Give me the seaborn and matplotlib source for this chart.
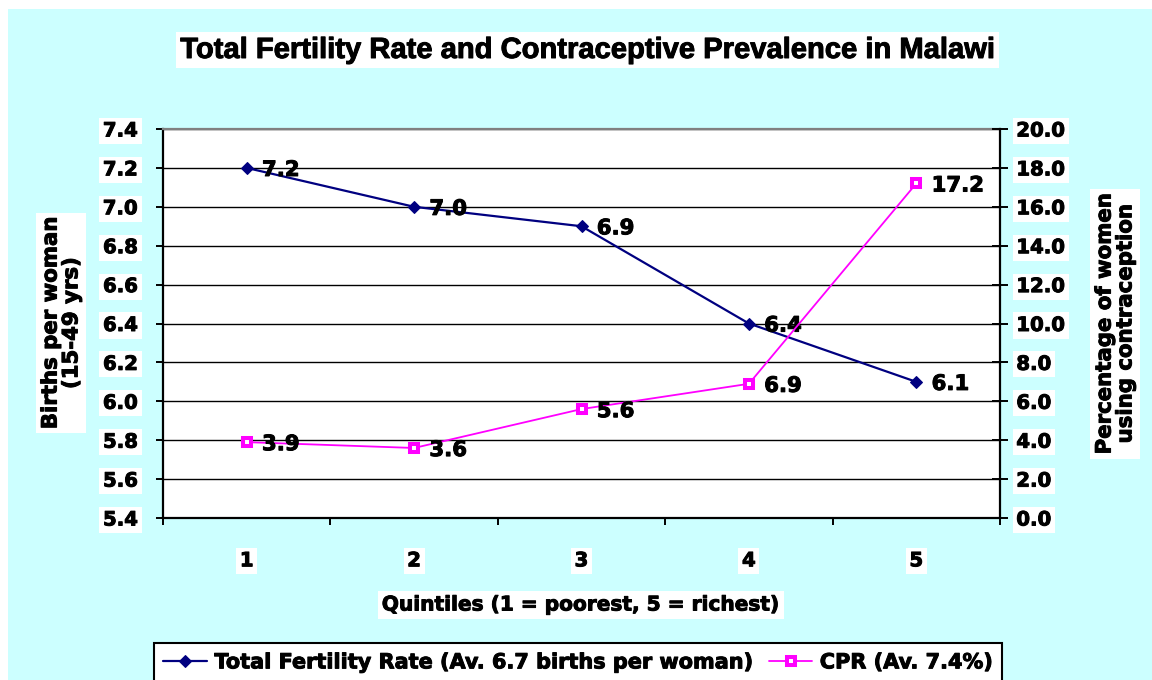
import matplotlib
matplotlib.use("Agg")
import matplotlib.pyplot as plt
from matplotlib.patches import Rectangle
import matplotlib.patheffects as pe
import seaborn as sns
import pandas as pd

# ---- data ----
quintiles = ["1", "2", "3", "4", "5"]
tfr = [7.2, 7.0, 6.9, 6.4, 6.1]
cpr = [3.9, 3.6, 5.6, 6.9, 17.2]
tfr_label = "Total Fertility Rate (Av. 6.7 births per woman)"
cpr_label = "CPR (Av. 7.4%)"
left_ticks = [5.4, 5.6, 5.8, 6.0, 6.2, 6.4, 6.6, 6.8, 7.0, 7.2, 7.4]
right_ticks = [0, 2, 4, 6, 8, 10, 12, 14, 16, 18, 20]

sns.set_style("white")
plt.rcParams["font.family"] = ["DejaVu Sans"]
plt.rcParams["font.weight"] = "bold"
for k in ["text.color", "axes.labelcolor", "xtick.color", "ytick.color",
          "xtick.labelcolor", "ytick.labelcolor"]:
    plt.rcParams[k] = "black"

heavy = [pe.withStroke(linewidth=0.7, foreground="black")]

W, H = 1152, 680
fig = plt.figure(figsize=(W / 100, H / 100), dpi=100, facecolor="white")
fig.patches.append(Rectangle((8 / W, 0), 1, (H - 9) / H, transform=fig.transFigure,
                             facecolor="#CCFFFF", edgecolor="none", zorder=-10))

L, R, T, B = 163, 1000, 129, 518
ax = fig.add_axes([L / W, (H - B) / H, (R - L) / W, (B - T) / H])
ax.set_facecolor("white")
ax2 = ax.twinx()

df = pd.DataFrame({"x": range(len(quintiles)), "tfr": tfr, "cpr": cpr})

sns.lineplot(data=df, x="x", y="tfr", ax=ax, color="#000080", lw=1.6,
             marker="D", markersize=6.5, markeredgecolor="#000080",
             label=tfr_label, legend=False, zorder=5)
sns.lineplot(data=df, x="x", y="cpr", ax=ax2, color="#FF00FF", lw=1.3,
             marker="s", markersize=5.2, markerfacecolor="white",
             markeredgecolor="#FF00FF", markeredgewidth=2.9,
             label=cpr_label, legend=False, zorder=5)

lab_font = dict(fontsize=15.3, fontweight="bold", color="black")
for i, v in enumerate(tfr):
    ax.annotate(f"{v:.1f}", (i, v), xytext=(11, -1.5), textcoords="offset points",
                ha="left", va="center", zorder=6, path_effects=heavy, **lab_font)
for i, v in enumerate(cpr):
    ax2.annotate(f"{v:.1f}", (i, v), xytext=(11, -1.5), textcoords="offset points",
                 ha="left", va="center", zorder=6, path_effects=heavy, **lab_font)

# axes limits / ticks
ax.set_xlim(-0.5, len(quintiles) - 0.5)
ax.set_ylim(5.4, 7.4)
ax2.set_ylim(0, 20)
ax.set_yticks(left_ticks)
ax.set_yticklabels([f"{t:.1f}" for t in left_ticks])
ax2.set_yticks(right_ticks)
ax2.set_yticklabels([f"{t:.1f}" for t in right_ticks])
ax.set_xticks(range(len(quintiles)))
ax.set_xticklabels(quintiles)
ax.set_xticks([i - 0.5 for i in range(len(quintiles) + 1)], minor=True)
ax.set_xlabel("")
ax.set_ylabel("")
ax2.set_ylabel("")

ax.grid(axis="y", color="black", lw=1.0)
ax.set_axisbelow(True)

ax.tick_params(axis="y", direction="out", length=5, width=1.4, color="black",
               pad=13, labelsize=14.2, left=True)
ax2.tick_params(axis="y", direction="inout", length=11.5, width=1.4, color="black",
                pad=6, labelsize=14.2, right=True)
ax.tick_params(axis="x", which="major", length=0, pad=24, labelsize=14.2)
ax.tick_params(axis="x", which="minor", direction="out", length=5, width=1.4,
               color="black", bottom=True)

for lbl in ax.get_yticklabels() + ax2.get_yticklabels() + ax.get_xticklabels():
    lbl.set_fontweight("bold")
    lbl.set_color("black")
    lbl.set_path_effects(heavy)
    lbl.set_bbox(dict(facecolor="white", edgecolor="none", pad=2.5))

for a in (ax, ax2):
    for s in ["left", "right", "bottom", "top"]:
        a.spines[s].set_visible(False)
ax.spines["left"].set_visible(True)
ax.spines["left"].set_color("black")
ax.spines["left"].set_linewidth(1.6)
ax.spines["bottom"].set_visible(True)
ax.spines["bottom"].set_color("black")
ax.spines["bottom"].set_linewidth(1.6)
ax.spines["top"].set_visible(True)
ax.spines["top"].set_color("#808080")
ax.spines["top"].set_linewidth(1.6)
ax2.spines["right"].set_visible(True)
ax2.spines["right"].set_color("black")
ax2.spines["right"].set_linewidth(1.6)

# title
fig.text(587.5 / W, 1 - 50 / H, "Total Fertility Rate and Contraceptive Prevalence in Malawi",
         ha="center", va="center", fontsize=21, fontweight="bold", color="black",
         family=["Liberation Sans", "DejaVu Sans"], path_effects=heavy,
         bbox=dict(facecolor="white", edgecolor="none", pad=3))

# axis labels
fig.text(61 / W, 1 - 323 / H, "Births per woman\n(15-49 yrs)", rotation=90,
         ha="center", va="center", multialignment="center", fontsize=15.3,
         fontweight="bold", linespacing=1.05, color="black", path_effects=heavy,
         bbox=dict(facecolor="white", edgecolor="none", pad=3))
fig.text(1115 / W, 1 - 324 / H, "Percentage of women\nusing contraception", rotation=90,
         ha="center", va="center", multialignment="center", fontsize=15.3,
         fontweight="bold", linespacing=1.05, color="black", path_effects=heavy,
         bbox=dict(facecolor="white", edgecolor="none", pad=3))
fig.text(581 / W, 1 - 605 / H, "Quintiles (1 = poorest, 5 = richest)",
         ha="center", va="center", fontsize=14.5, fontweight="bold", color="black",
         path_effects=heavy,
         bbox=dict(facecolor="white", edgecolor="none", pad=3))

# legend
h1, l1 = ax.get_legend_handles_labels()
h2, l2 = ax2.get_legend_handles_labels()
leg = fig.legend(h1 + h2, l1 + l2, loc="upper center",
                 bbox_to_anchor=(578 / W, 1 - 643 / H), ncol=2, frameon=True,
                 fancybox=False, framealpha=1, edgecolor="black", facecolor="white",
                 prop=dict(size=15, weight="bold"), handlelength=2.1,
                 handletextpad=0.35, columnspacing=0.7, borderpad=0.45,
                 borderaxespad=0)
leg.get_frame().set_linewidth(1.5)
for t in leg.get_texts():
    t.set_color("black")
    t.set_path_effects(heavy)

fig.savefig("out.png", dpi=100, facecolor=fig.get_facecolor())
